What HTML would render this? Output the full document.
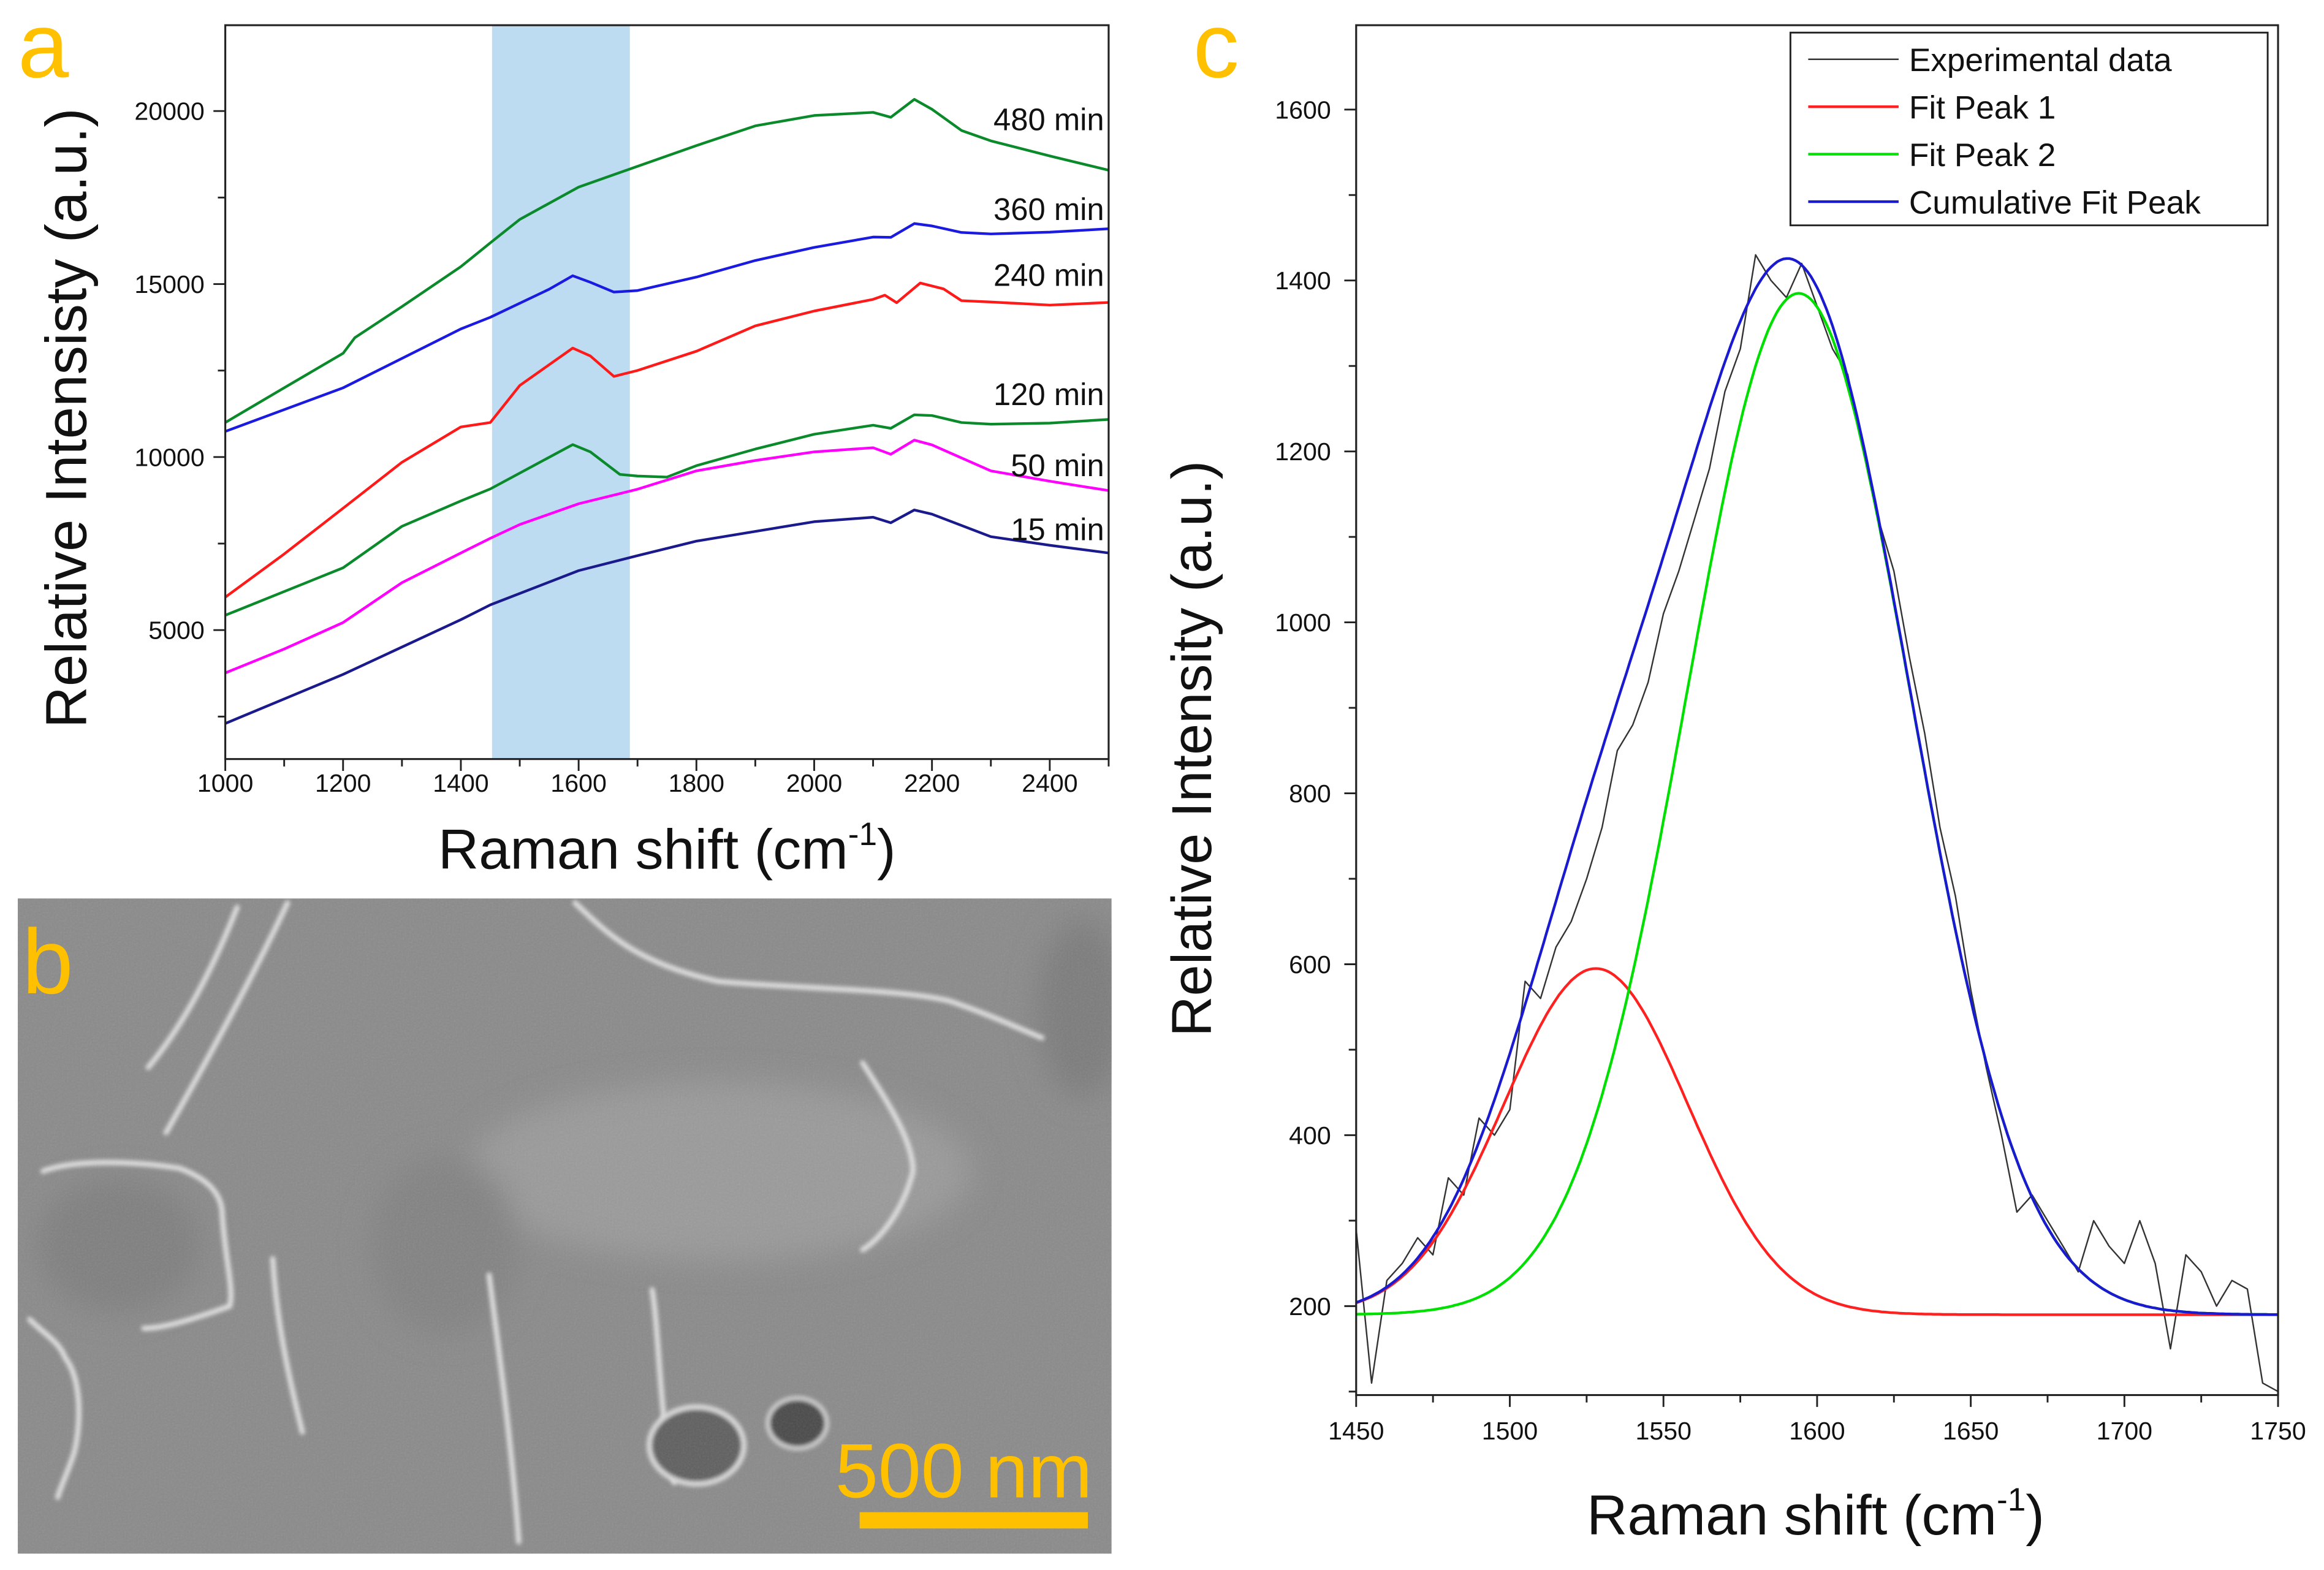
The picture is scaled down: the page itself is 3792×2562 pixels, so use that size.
<!DOCTYPE html>
<html><head><meta charset="utf-8"><style>
html,body{margin:0;padding:0;background:#fff;overflow:hidden;width:3792px;height:2562px;}
svg{display:block;}
text{font-family:"Liberation Sans",sans-serif;}
</style></head><body>
<svg id="fig" width="3792" height="2562" viewBox="0 0 1568 1059" preserveAspectRatio="none" xmlns="http://www.w3.org/2000/svg">
<defs>
<filter id="blur1"><feGaussianBlur stdDeviation="1.4"/></filter>
<filter id="blur3"><feGaussianBlur stdDeviation="10"/></filter>
<filter id="grain"><feTurbulence type="fractalNoise" baseFrequency="0.9" numOctaves="2" seed="3"/><feColorMatrix type="saturate" values="0"/><feComponentTransfer><feFuncA type="linear" slope="0.15"/></feComponentTransfer></filter>
<clipPath id="semclip"><rect x="12" y="606" width="738" height="442"/></clipPath>
<clipPath id="clipA"><rect x="152" y="17" width="596" height="495"/></clipPath>
<clipPath id="clipC"><rect x="915" y="17" width="622" height="924"/></clipPath>
</defs>

<g id="panel-b" clip-path="url(#semclip)">
<rect x="12" y="606" width="738" height="442" fill="#8a8a8a"/>
<g filter="url(#blur3)">
<ellipse cx="485" cy="790" rx="170" ry="60" fill="#9a9a9a"/>
<ellipse cx="80" cy="840" rx="55" ry="45" fill="#7f7f7f"/>
<ellipse cx="730" cy="680" rx="30" ry="60" fill="#7c7c7c"/>
<ellipse cx="300" cy="840" rx="50" ry="60" fill="#828282"/>
</g>
<g fill="none" stroke="#e2e2e2" stroke-width="3.5" stroke-linecap="round" filter="url(#blur1)">
<path d="M194 609 C170 660 140 715 112 764"/>
<path d="M160 612 C145 650 125 690 100 720"/>
<path d="M29 790 C50 782 90 783 121 788 C140 795 150 805 150 820 C152 850 158 870 155 881 C130 890 110 896 97 896"/>
<path d="M44 916 C55 930 55 960 50 980 C45 995 40 1005 39 1010"/>
<path d="M388 609 C410 630 430 650 485 662 C540 667 606 667 640 675 C670 685 690 695 703 700"/>
<path d="M184 849 C186 880 190 910 204 966"/>
<path d="M582 717 C600 745 616 770 616 790 C610 815 595 835 582 843"/>
<path d="M330 860 C335 900 345 970 350 1040"/>
<path d="M20 890 C30 900 40 905 44 916"/>
<path d="M440 870 C445 900 445 960 455 1000"/>
</g>
<ellipse cx="470" cy="975" rx="32" ry="26" fill="#5e5e5e" stroke="#dcdcdc" stroke-width="3.5" filter="url(#blur1)"/>
<ellipse cx="538" cy="960" rx="20" ry="17" fill="#4a4a4a" stroke="#cfcfcf" stroke-width="3" filter="url(#blur1)"/>
<rect x="12" y="606" width="738" height="442" filter="url(#grain)"/>
</g>
<text x="15" y="670" font-size="62" fill="#FFC000">b</text>
<text x="737" y="1010" font-size="52" fill="#FFC000" text-anchor="end">500 nm</text>
<rect x="580" y="1020" width="154" height="11" fill="#FFC000"/>

<text x="12" y="52" font-size="62" fill="#FFC000">a</text>
<text x="805" y="52" font-size="62" fill="#FFC000">c</text>

<g id="panelA"></g>
<g id="panelC"></g>
</svg>
<script>
// ---------- Panel a data ----------
const aSeriesNames = ["15 min","50 min","120 min","240 min","360 min","480 min"];
const aColors = ["#1a1a8c","#ff00ff","#0a8a2a","#ff1a1a","#1a1ae0","#0a8a2a"];
const x15 = [1000,1200,1400,1450,1600,1700,1800,2000,2100,2130,2170,2200,2300,2400,2500];
const y15 = [2300,3720,5300,5730,6720,7150,7570,8130,8260,8100,8470,8350,7700,7450,7230];
const x50 = [1000,1100,1200,1300,1400,1450,1500,1600,1700,1800,1900,2000,2100,2130,2170,2200,2300,2400,2500];
const y50 = [3760,4450,5220,6370,7230,7650,8050,8650,9070,9600,9900,10150,10270,10080,10490,10350,9600,9300,9030];
const x120 = [1000,1200,1300,1400,1450,1590,1620,1670,1700,1750,1800,1900,2000,2100,2130,2170,2200,2250,2300,2400,2500];
const y120 = [5430,6800,8000,8730,9080,10360,10150,9500,9450,9420,9750,10230,10660,10920,10830,11220,11200,11000,10950,10980,11090];
const x240 = [1000,1100,1200,1300,1400,1450,1500,1590,1620,1660,1700,1800,1900,2000,2100,2120,2140,2180,2220,2250,2300,2400,2500];
const y240 = [5950,7200,8520,9850,10870,11000,12070,13150,12920,12330,12500,13060,13790,14220,14560,14680,14460,15030,14860,14520,14480,14390,14470];
const x360 = [1000,1200,1400,1450,1550,1590,1620,1660,1700,1800,1900,2000,2100,2130,2170,2200,2250,2300,2400,2500];
const y360 = [10740,12000,13700,14040,14850,15240,15050,14770,14810,15200,15680,16060,16360,16350,16750,16680,16490,16450,16500,16600];
const x480 = [1000,1100,1200,1220,1300,1400,1450,1500,1600,1700,1800,1900,2000,2100,2130,2170,2200,2250,2300,2400,2500];
const y480 = [11000,12000,13000,13450,14350,15500,16190,16870,17800,18400,19000,19570,19870,19960,19820,20340,20050,19440,19140,18700,18290];
const aXs = [x15,x50,x120,x240,x360,x480];
const aYs = [y15,y50,y120,y240,y360,y480];
const aXTicks = [1000,1200,1400,1600,1800,2000,2200,2400];
const aYTicks = [5000,10000,15000,20000];
const aLabelY = [7600,9450,11500,14950,16850,19450];
const aBand = [1453,1687];

// ---------- Panel c data ----------
const cX = [1450,1455,1460,1465,1470,1475,1480,1485,1490,1495,1500,1505,1510,1515,1520,1525,1530,1535,1540,1545,1550,1555,1560,1565,1570,1575,1580,1585,1590,1595,1600,1605,1610,1615,1620,1625,1630,1635,1640,1645,1650,1655,1660,1665,1670,1675,1680,1685,1690,1695,1700,1705,1710,1715,1720,1725,1730,1735,1740,1745,1750];
const cExp = [290,110,230,250,280,260,350,330,420,400,430,580,560,620,650,700,760,850,880,930,1010,1060,1120,1180,1270,1320,1430,1400,1380,1420,1370,1320,1290,1200,1120,1060,960,870,760,680,570,480,400,310,330,300,270,240,300,270,250,300,250,150,260,240,200,230,220,110,100];
const cBaseline = [190];
const cCenters = [1528,1594];
const cAmps = [405,1195];
const cSigmas = [30,36.5];
const cXTicks = [1450,1500,1550,1600,1650,1700,1750];
const cYTicks = [200,400,600,800,1000,1200,1400,1600];

const NS = "http://www.w3.org/2000/svg";
function mk(tag, attrs, parent){
  const e = document.createElementNS(NS, tag);
  for (const k in attrs) e.setAttribute(k, attrs[k]);
  parent.appendChild(e);
  return e;
}

(function(){
  const g = document.getElementById('panelA');
  const L=152,R=748,T=17,B=512;
  const sx = v => L + (v-1000)/1500*(R-L);
  const sy = v => 425 - (v-5000)/5000*116.7;
  const band = mk('rect',{x:sx(aBand[0]),y:T,width:sx(aBand[1])-sx(aBand[0]),height:B-T,fill:'#bddcf2'},g);
  
  
  const plot = mk('g',{'clip-path':'url(#clipA)'},g);
  for (let i=0;i<aXs.length;i++){
    const d = aXs[i].map((x,j)=>(j?'L':'M')+sx(x).toFixed(1)+' '+sy(aYs[i][j]).toFixed(1)).join(' ');
    const p = mk('path',{d:d,fill:'none',stroke:aColors[i],'stroke-width':1.8,'stroke-linejoin':'round'},plot);
    
    
    const t = mk('text',{x:745,y:sy(aLabelY[i]),'font-size':21,'text-anchor':'end',fill:'#111'},g);
    t.textContent = aSeriesNames[i];
    
    
  }
  const frame = mk('rect',{x:L,y:T,width:R-L,height:B-T,fill:'none',stroke:'#222','stroke-width':1.3},g);
  
  
  for (let v=1000; v<=2500; v+=100){
    mk('line',{x1:sx(v),x2:sx(v),y1:B,y2:B+(v%200===0?8:5),stroke:'#222','stroke-width':1.2},g);
  }
  aXTicks.forEach(v=>{
    const t = mk('text',{x:sx(v),y:B+22,'font-size':17,'text-anchor':'middle',fill:'#111'},g);
    t.textContent = v;
    
    
  });
  for (let v=2500; v<=22000; v+=2500){
    const y = sy(v); if (y<T||y>B) continue;
    mk('line',{x1:L,x2:L-(v%5000===0?8:5),y1:y,y2:y,stroke:'#222','stroke-width':1.2},g);
  }
  aYTicks.forEach(v=>{
    const t = mk('text',{x:L-14,y:sy(v)+6,'font-size':17,'text-anchor':'end',fill:'#111'},g);
    t.textContent = v;
    
    
  });
  const xt = mk('text',{x:450,y:586,'font-size':38,'text-anchor':'middle',fill:'#111'},g);
  xt.innerHTML = 'Raman shift (cm<tspan font-size="22" dy="-16">-1</tspan><tspan dy="16">)</tspan>';
  
  
  const yt = mk('text',{x:0,y:0,'font-size':39,'text-anchor':'middle',fill:'#111',transform:'translate(58,282) rotate(-90)'},g);
  yt.textContent = 'Relative Intensisty (a.u.)';
  
  
})();

(function(){
  const g = document.getElementById('panelC');
  const L=915,R=1537,T=17,B=941;
  const sx = v => L + (v-1450)/300*(R-L);
  const sy = v => 881 - (v-200)/200*115.3;
  const gauss = (x,k) => cAmps[k]*Math.exp(-Math.pow(x-cCenters[k],2)/(2*cSigmas[k]*cSigmas[k]));
  const plot = mk('g',{'clip-path':'url(#clipC)'},g);
  const dExp = cX.map((x,j)=>(j?'L':'M')+sx(x).toFixed(1)+' '+sy(cExp[j]).toFixed(1)).join(' ');
  const pe = mk('path',{d:dExp,fill:'none',stroke:'#333','stroke-width':1,'stroke-linejoin':'round'},plot);
  
  
  const fits = [
    {f:x=>cBaseline[0]+gauss(x,0), c:'#ff2020', n:'series-fit-peak-1'},
    {f:x=>cBaseline[0]+gauss(x,1), c:'#00e000', n:'series-fit-peak-2'},
    {f:x=>cBaseline[0]+gauss(x,0)+gauss(x,1), c:'#1a1ad0', n:'series-cumulative-fit'}
  ];
  fits.forEach(s=>{
    let d='';
    for (let x=1450;x<=1750;x+=1) d += (x===1450?'M':'L')+sx(x).toFixed(1)+' '+sy(s.f(x)).toFixed(1)+' ';
    const p = mk('path',{d:d,fill:'none',stroke:s.c,'stroke-width':1.8},plot);
    
    
  });
  const frame = mk('rect',{x:L,y:T,width:R-L,height:B-T,fill:'none',stroke:'#222','stroke-width':1.3},g);
  
  
  for (let v=1450; v<=1750; v+=25){
    mk('line',{x1:sx(v),x2:sx(v),y1:B,y2:B+(v%50===0?8:5),stroke:'#222','stroke-width':1.2},g);
  }
  cXTicks.forEach(v=>{
    const t = mk('text',{x:sx(v),y:B+30,'font-size':17,'text-anchor':'middle',fill:'#111'},g);
    t.textContent = v;
    
    
  });
  for (let v=100; v<=1700; v+=100){
    const y=sy(v); if (y<T||y>B) continue;
    mk('line',{x1:L,x2:L-(v%200===0?8:5),y1:y,y2:y,stroke:'#222','stroke-width':1.2},g);
  }
  cYTicks.forEach(v=>{
    const t = mk('text',{x:L-17,y:sy(v)+6,'font-size':17,'text-anchor':'end',fill:'#111'},g);
    t.textContent = v;
    
    
  });
  const xt = mk('text',{x:1225,y:1035,'font-size':38,'text-anchor':'middle',fill:'#111'},g);
  xt.innerHTML = 'Raman shift (cm<tspan font-size="22" dy="-16">-1</tspan><tspan dy="16">)</tspan>';
  
  
  const yt = mk('text',{x:0,y:0,'font-size':38,'text-anchor':'middle',fill:'#111',transform:'translate(817,505) rotate(-90)'},g);
  yt.textContent = 'Relative Intensity (a.u.)';
  
  
  const lg = mk('g',{},g);
  
  
  mk('rect',{x:1208,y:22,width:322,height:130,fill:'#fff',stroke:'#222','stroke-width':1.2},lg);
  const entries = [['Experimental data','#333',1],['Fit Peak 1','#ff2020',1.8],['Fit Peak 2','#00e000',1.8],['Cumulative Fit Peak','#1a1ad0',1.8]];
  entries.forEach((e,i)=>{
    const y = 40 + i*32;
    mk('line',{x1:1220,x2:1281,y1:y,y2:y,stroke:e[1],'stroke-width':e[2]},lg);
    const t = mk('text',{x:1288,y:y+8,'font-size':22,fill:'#111'},lg);
    t.textContent = e[0];
    
    
  });
})();
</script>
</body></html>
